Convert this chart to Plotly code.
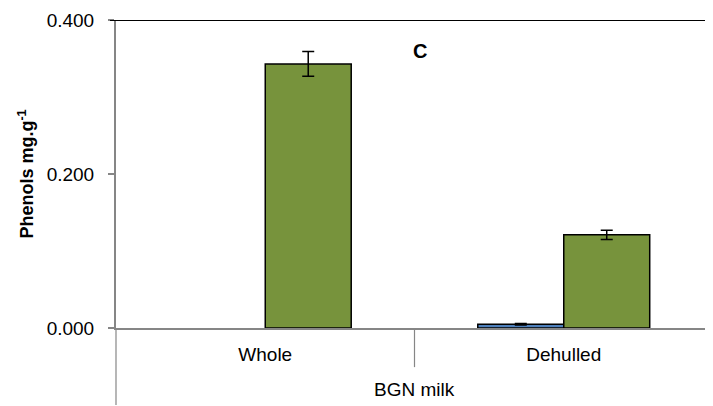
import plotly.graph_objects as go

# data
categories = ["Whole", "Dehulled"]
group_label = "BGN milk"
blue_values = [None, 0.005]
blue_errors = [0.0, 0.001]
green_values = [0.343, 0.121]
green_errors = [0.016, 0.006]
y_ticks = [0.0, 0.2, 0.4]

FONT = "Liberation Sans, Arial, sans-serif"
AXIS_GREY = "#868686"

fig = go.Figure()

fig.add_trace(go.Bar(
    x=categories,
    y=blue_values,
    error_y=dict(type="data", array=blue_errors, color="black", thickness=1.5, width=6),
    marker=dict(color="#4F81BD", line=dict(color="black", width=1.5)),
    showlegend=False,
))
fig.add_trace(go.Bar(
    x=categories,
    y=green_values,
    error_y=dict(type="data", array=green_errors, color="black", thickness=1.5, width=6),
    marker=dict(color="#77933C", line=dict(color="black", width=1.5)),
    showlegend=False,
))

# the page body has an 8px margin, so the figure is a bit smaller than the window
fig.update_layout(
    width=705,
    height=398,
    margin=dict(l=108, r=0, t=12, b=78),
    paper_bgcolor="white",
    plot_bgcolor="white",
    barmode="group",
    bargap=0.424,
    bargroupgap=0,
    font=dict(family=FONT, size=19, color="black"),
    xaxis=dict(
        type="category",
        range=[-0.5, 1.5],
        showline=True,
        linecolor=AXIS_GREY,
        linewidth=1.5,
        ticks="",
        showgrid=False,
        ticklabelstandoff=8,
        tickfont=dict(size=19),
    ),
    yaxis=dict(
        range=[0, 0.4],
        tickvals=y_ticks,
        tickformat=".3f",
        showline=True,
        linecolor=AXIS_GREY,
        linewidth=2,
        ticks="outside",
        ticklen=6,
        tickcolor=AXIS_GREY,
        tickwidth=1.5,
        showgrid=False,
        zeroline=False,
        ticklabelstandoff=10,
        tickfont=dict(size=19),
        title=dict(text="<b>Phenols mg.g<sup>-1</sup></b>", font=dict(size=18), standoff=8),
    ),
    shapes=[
        # black line along the top of the plot
        dict(type="line", xref="paper", yref="y", x0=-0.01, x1=1, y0=0.4, y1=0.4,
             line=dict(color="black", width=2)),
        # divider between the two categories
        dict(type="line", xref="x", yref="paper", x0=0.5, x1=0.5, y0=0, y1=-0.127,
             line=dict(color=AXIS_GREY, width=1.2)),
        # left edge extended below the axis
        dict(type="line", xref="paper", yref="paper", x0=0, x1=0, y0=0, y1=-0.25,
             line=dict(color=AXIS_GREY, width=1.2)),
    ],
    annotations=[
        dict(text=group_label, xref="paper", yref="paper", x=0.5, y=-0.2,
             showarrow=False, font=dict(size=19), xanchor="center", yanchor="middle"),
        dict(text="<b>C</b>", xref="paper", yref="paper", x=0.509, y=0.9,
             showarrow=False, font=dict(size=20), xanchor="center", yanchor="middle"),
    ],
)

fig.write_html("out.html")
